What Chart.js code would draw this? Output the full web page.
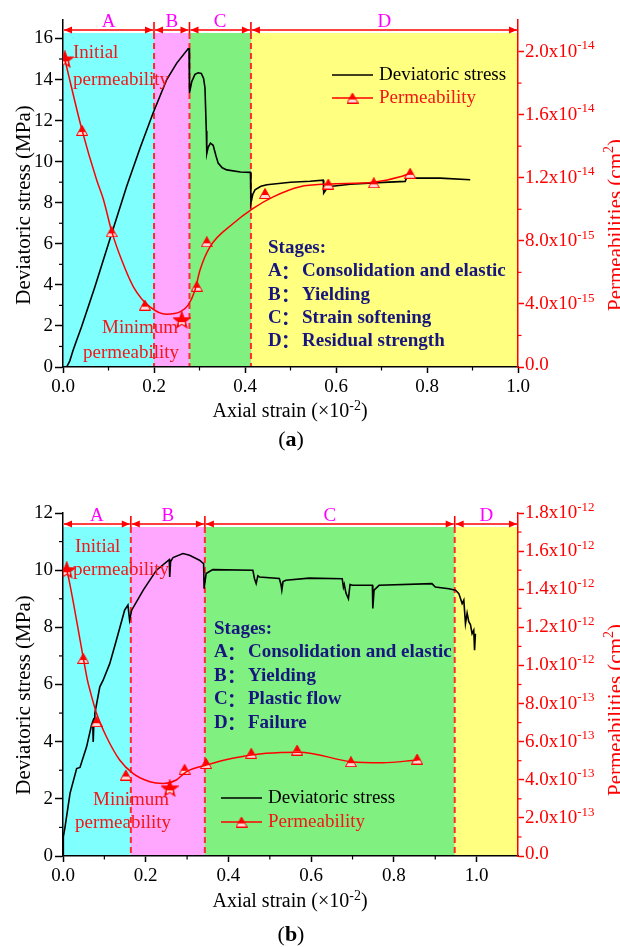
<!DOCTYPE html>
<html>
<head>
<meta charset="utf-8">
<script src="https://cdn.jsdelivr.net/npm/chart.js@4.4.1/dist/chart.umd.min.js"></script>
<style>
  body { margin: 0; background: #fff; width: 620px; height: 947px; overflow: hidden; position: relative; }
  canvas { position: absolute; left: 0; }
  #chartA { top: 0; }
  #chartB { top: 460px; }
</style>
</head>
<body>
<canvas id="chartA" width="620" height="460"></canvas>
<canvas id="chartB" width="620" height="487"></canvas>
<script>
var SERIF = "'Liberation Serif', 'Times New Roman', serif";

/* --------------------------
   DATA (a)
--------------------------- */
var strainA = [0.008, 0.015, 0.022, 0.03, 0.041, 0.07, 0.107, 0.14, 0.17, 0.198, 0.228, 0.25, 0.275,
    0.277, 0.278, 0.283, 0.29, 0.297, 0.304, 0.309, 0.312, 0.315, 0.316, 0.319, 0.324, 0.33, 0.336, 0.341,
    0.35, 0.36, 0.39, 0.412, 0.413, 0.417, 0.422, 0.435, 0.448, 0.5, 0.543, 0.572, 0.573, 0.58, 0.587,
    0.631, 0.704, 0.752, 0.755, 0.829, 0.895];
var stressA = [0, 0.3, 0.8, 1.3, 1.97, 3.9, 6.5, 8.8, 10.7, 12.37, 14.0, 14.8, 15.5,
    15.5, 13.35, 13.9, 14.25, 14.33, 14.3, 14.05, 13.6, 11.5, 10.4, 10.7, 10.9, 10.8, 10.3, 9.93,
    9.7, 9.6, 9.5, 9.48, 7.98, 8.4, 8.63, 8.8, 8.88, 9.0, 9.05, 9.1, 8.47, 8.7, 8.79,
    8.9, 8.99, 9.04, 9.2, 9.2, 9.12];
// permeability markers, x10^-15 cm2
var permStrainA = [0.004, 0.042, 0.107, 0.180, 0.261, 0.294, 0.316, 0.444, 0.583, 0.683, 0.763];
var permA = [19.5, 15.0, 8.57, 3.92, 2.97, 5.12, 7.94, 11.0, 11.6, 11.68, 12.28];
// fitted permeability curve, x10^-15 cm2
var fitStrainA = [0.004, 0.042, 0.074, 0.089, 0.107, 0.13, 0.155, 0.191, 0.228, 0.257, 0.275, 0.29,
    0.301, 0.323, 0.374, 0.418, 0.462, 0.521, 0.583, 0.683, 0.741, 0.763];
var fitPermA = [19.5, 15.0, 11.85, 10.6, 8.6, 6.7, 5.07, 3.81, 3.35, 3.49, 3.92, 4.87,
    6.14, 7.62, 9.1, 10.06, 10.79, 11.43, 11.6, 11.72, 12.06, 12.28];
var stageEdgesA = [0, 0.2, 0.278, 0.413, 1.0];
var stageTextA = ["Consolidation and elastic", "Yielding", "Strain softening", "Residual strength"];
var xTicksMaxA = 1.0, yMaxA = 16.9, y2MaxA = 22, y2StepA = 4, y2PowA = -15;

/* --------------------------
   DATA (b)
--------------------------- */
var strainB = [0, 0.0008, 0.005, 0.017, 0.033, 0.041, 0.057, 0.069, 0.072, 0.073, 0.075, 0.077, 0.089,
    0.097, 0.113, 0.129, 0.149, 0.157, 0.161, 0.166, 0.194, 0.226, 0.257, 0.258, 0.26, 0.266, 0.29,
    0.306, 0.33, 0.34, 0.341, 0.346, 0.362, 0.459, 0.463, 0.467, 0.471, 0.475, 0.523, 0.527, 0.529,
    0.532, 0.539, 0.595, 0.675, 0.678, 0.68, 0.684, 0.69, 0.694, 0.7, 0.748, 0.749, 0.752, 0.764,
    0.892, 0.9, 0.933, 0.949, 0.957, 0.965, 0.969, 0.973, 0.977, 0.981, 0.985, 0.989, 0.993, 0.995, 0.997];
var stressB = [0, 0.67, 1.02, 2.19, 3.06, 3.1, 3.82, 4.58, 4.7, 3.99, 4.8, 4.99, 5.92,
    6.15, 6.73, 7.55, 8.6, 8.78, 8.25, 8.6, 9.3, 10.0, 10.37, 9.76, 10.3, 10.44, 10.58,
    10.52, 10.35, 10.23, 9.35, 9.88, 10.02, 10.0, 9.7, 9.53, 9.8, 9.76, 9.71, 9.5, 9.3,
    9.6, 9.65, 9.72, 9.7, 9.4, 9.5, 9.2, 9.0, 9.5, 9.47, 9.47, 8.66, 9.3, 9.47,
    9.53, 9.41, 9.35, 9.3, 9.18, 8.83, 8.95, 8.13, 8.5, 8.2, 8.1, 7.78, 7.9, 7.2, 7.78];
// permeability markers, x10^-13 cm2
var permStrainB = [0.009, 0.049, 0.081, 0.152, 0.258, 0.294, 0.346, 0.455, 0.566, 0.696, 0.856];
var permB = [15.0, 10.37, 7.05, 4.25, 3.55, 4.55, 4.86, 5.39, 5.56, 4.95, 5.09];
var fitStrainB = [0.009, 0.013, 0.049, 0.059, 0.065, 0.081, 0.105, 0.137, 0.169, 0.21, 0.242, 0.274,
    0.298, 0.346, 0.41, 0.491, 0.571, 0.696, 0.772, 0.856];
var fitPermB = [15.0, 14.65, 10.4, 9.23, 8.71, 7.49, 6.26, 5.04, 4.34, 3.9, 3.81, 3.99,
    4.42, 4.77, 5.13, 5.39, 5.45, 4.95, 4.89, 5.04];
var stageEdgesB = [0, 0.164, 0.343, 0.947, 1.1];
var stageTextB = ["Consolidation and elastic", "Yielding", "Plastic flow", "Failure"];
var xTicksMaxB = 1.1, yMaxB = 12, y2MaxB = 18, y2StepB = 2, y2PowB = -13;

var stageNames = ["A", "B", "C", "D"];
var bandColors = ["#80ffff", "#ffa6ff", "#80f080", "#ffff80"];
var RED = "#ff0000", TXTRED = "#f21818", NAVY = "#16167e", MAGENTA = "#ff00ff";

/* --------------------------
   MARKERS
--------------------------- */
function triMarker(){
    var c = document.createElement("canvas"); c.width = 12; c.height = 11;
    var g = c.getContext("2d");
    g.beginPath(); g.moveTo(6, 0.5); g.lineTo(11.5, 10.5); g.lineTo(0.5, 10.5); g.closePath();
    g.fillStyle = RED; g.fill();
    g.save(); g.clip(); g.fillStyle = "#ffd8d8"; g.fillRect(0, 7, 12, 4); g.restore();
    g.strokeStyle = RED; g.lineWidth = 1; g.stroke();
    return c;
}
function starMarker(){
    var c = document.createElement("canvas"); c.width = 18; c.height = 18;
    var g = c.getContext("2d");
    g.beginPath();
    for (var i = 0; i < 10; i++) {
        var r = i % 2 ? 3.6 : 8.5, a = -Math.PI / 2 + i * Math.PI / 5;
        g.lineTo(9 + r * Math.cos(a), 9.5 + r * Math.sin(a));
    }
    g.closePath(); g.fillStyle = RED; g.fill();
    g.save(); g.clip(); g.fillStyle = "#ffe0e0"; g.fillRect(6, 11, 6, 8); g.restore();
    g.strokeStyle = RED; g.lineWidth = 1.2; g.stroke();
    return c;
}
var TRI = triMarker(), STAR = starMarker();

function pts(xs, ys){ return xs.map(function(x, i){ return {x: x, y: ys[i]}; }); }

/* --------------------------
   TEXT HELPERS
--------------------------- */
function drawMixed(ctx, parts, x, y, size, align, color, bold){
    var f = (bold ? "bold " : "") + size + "px " + SERIF;
    var fs = Math.round(size * 0.68) + "px " + SERIF;
    var w = 0, ws = [];
    parts.forEach(function(p){ ctx.font = p[1] ? fs : f; var m = ctx.measureText(p[0]).width; ws.push(m); w += m; });
    var cx = align === "center" ? x - w / 2 : x;
    ctx.fillStyle = color; ctx.textAlign = "left"; ctx.textBaseline = "middle";
    parts.forEach(function(p, i){
        ctx.font = p[1] ? fs : f;
        ctx.fillText(p[0], cx, p[1] ? y - size * 0.3 : y);
        cx += ws[i];
    });
}

/* --------------------------
   DECOR PLUGIN
--------------------------- */
var decor = {
    id: "decor",
    beforeDraw: function(chart, args, o){
        var ctx = chart.ctx, a = chart.chartArea, x = chart.scales.x;
        var top = a.top + o.bandOffset;
        ctx.save();
        for (var i = 0; i < o.edges.length - 1; i++) {
            var x0 = x.getPixelForValue(o.edges[i]), x1 = x.getPixelForValue(o.edges[i + 1]);
            ctx.fillStyle = bandColors[i];
            ctx.fillRect(x0, top, x1 - x0, a.bottom - top);
        }
        ctx.strokeStyle = "#ff2a2a"; ctx.lineWidth = 2; ctx.setLineDash([6, 4]);
        for (i = 1; i < o.edges.length - 1; i++) {
            var px = x.getPixelForValue(o.edges[i]);
            ctx.beginPath(); ctx.moveTo(px, top); ctx.lineTo(px, a.bottom); ctx.stroke();
        }
        ctx.restore();
    },
    afterDraw: function(chart, args, o){
        var ctx = chart.ctx, a = chart.chartArea, x = chart.scales.x, y = chart.scales.y, y2 = chart.scales.y2;
        var off = o.offset, top = a.top + o.bandOffset;
        ctx.save();

        // minor ticks
        function mids(scale, max){
            var t = scale.ticks.map(function(k){ return k.value; }), m = [];
            for (var i = 0; i < t.length; i++) {
                var step = t.length > 1 ? t[1] - t[0] : 0;
                var v = t[i] + step / 2;
                if (v < max - 1e-9) m.push(v);
            }
            return m;
        }
        ctx.lineWidth = 1.2;
        ctx.strokeStyle = "#000";
        mids(x, x.max).forEach(function(v){
            var p = x.getPixelForValue(v);
            ctx.beginPath(); ctx.moveTo(p, a.bottom); ctx.lineTo(p, a.bottom + 3.5); ctx.stroke();
        });
        mids(y, y.max).forEach(function(v){
            var p = y.getPixelForValue(v);
            ctx.beginPath(); ctx.moveTo(a.left - 4, p); ctx.lineTo(a.left, p); ctx.stroke();
        });
        ctx.strokeStyle = RED;
        mids(y2, y2.max).forEach(function(v){
            var p = y2.getPixelForValue(v);
            ctx.beginPath(); ctx.moveTo(a.right, p); ctx.lineTo(a.right + 3.5, p); ctx.stroke();
        });

        // right tick labels with exponents
        y2.ticks.forEach(function(k){
            var v = k.value, p = y2.getPixelForValue(v);
            if (v === 0) { drawMixed(ctx, [["0.0", 0]], a.right + 7, p - 2, 19, "left", RED); return; }
            var e = Math.floor(Math.log10(v) + 1e-9);
            var mant = v / Math.pow(10, e);
            drawMixed(ctx, [[mant.toFixed(1) + "x10", 0], [String(o.pow + e), 1]], a.right + 7, p, 19, "left", RED);
        });

        // axis titles
        ctx.save();
        ctx.translate(o.yTitle[0], o.yTitle[1] - off); ctx.rotate(-Math.PI / 2);
        drawMixed(ctx, [["Deviatoric stress (MPa)", 0]], 0, 0, 21, "center", "#000");
        ctx.restore();
        ctx.save();
        ctx.translate(o.y2Title[0], o.y2Title[1] - off); ctx.rotate(-Math.PI / 2);
        drawMixed(ctx, [["Permeabilities (cm", 0], ["2", 1], [")", 0]], 0, 0, 21, "center", RED);
        ctx.restore();
        drawMixed(ctx, [["Axial strain (\u00d710", 0], ["-2", 1], [")", 0]], o.xTitle[0], o.xTitle[1] - off, 20, "center", "#000");

        // stage arrows
        var ay = top - 3;
        ctx.lineWidth = 1.6;
        for (var i = 0; i < o.edges.length - 1; i++) {
            var x0 = x.getPixelForValue(o.edges[i]) + 1, x1 = x.getPixelForValue(o.edges[i + 1]) - 1;
            ctx.strokeStyle = RED; ctx.fillStyle = RED;
            ctx.beginPath(); ctx.moveTo(x0, ay); ctx.lineTo(x1, ay); ctx.stroke();
            ctx.beginPath(); ctx.moveTo(x0, ay); ctx.lineTo(x0 + 8, ay - 3.5); ctx.lineTo(x0 + 8, ay + 3.5); ctx.closePath(); ctx.fill();
            ctx.beginPath(); ctx.moveTo(x1, ay); ctx.lineTo(x1 - 8, ay - 3.5); ctx.lineTo(x1 - 8, ay + 3.5); ctx.closePath(); ctx.fill();
            if (i > 0) {
                ctx.beginPath(); ctx.moveTo(x0 - 1, top - 11); ctx.lineTo(x0 - 1, top); ctx.stroke();
            }
            drawMixed(ctx, [[stageNames[i], 0]], (x0 + x1) / 2, top - 11, 19, "center", MAGENTA);
        }

        // annotations
        o.notes.forEach(function(n){ drawMixed(ctx, [[n[0], 0]], n[1], n[2] - off, 19, "left", TXTRED); });

        // stages box
        var sx = o.stages[0], sy = o.stages[1] - off, sd = o.stages[2];
        drawMixed(ctx, [["Stages:", 0]], sx, sy, 19, "left", NAVY, true);
        o.stageText.forEach(function(t, i){
            var yy = sy + sd * (i + 1);
            drawMixed(ctx, [[stageNames[i], 0]], sx, yy, 19, "left", NAVY, true);
            ctx.font = "bold 19px 'Noto Sans CJK SC'";
            ctx.fillText("\uff1a", sx + 13, yy);
            drawMixed(ctx, [[t, 0]], sx + 34, yy, 19, "left", NAVY, true);
        });

        // legend
        var lx = o.legend[0], ly1 = o.legend[1] - off, ly2 = o.legend[2] - off;
        ctx.lineWidth = 1.6;
        ctx.strokeStyle = "#000";
        ctx.beginPath(); ctx.moveTo(lx, ly1); ctx.lineTo(lx + 41, ly1); ctx.stroke();
        ctx.strokeStyle = RED;
        ctx.beginPath(); ctx.moveTo(lx, ly2); ctx.lineTo(lx + 41, ly2); ctx.stroke();
        ctx.drawImage(TRI, lx + 20.5 - 6, ly2 - 5.5);
        drawMixed(ctx, [["Deviatoric stress", 0]], lx + 47, ly1, 19, "left", "#000");
        drawMixed(ctx, [["Permeability", 0]], lx + 47, ly2, 19, "left", TXTRED);

        // caption
        var cy = o.caption[1] - off;
        ctx.font = "22px " + SERIF; var w1 = ctx.measureText("(").width;
        ctx.font = "bold 22px " + SERIF; var w2 = ctx.measureText(o.caption[2]).width;
        var cx = o.caption[0] - (2 * w1 + w2) / 2;
        drawMixed(ctx, [["(", 0]], cx, cy, 22, "left", "#000");
        drawMixed(ctx, [[o.caption[2], 0]], cx + w1, cy, 22, "left", "#000", true);
        drawMixed(ctx, [[")", 0]], cx + w1 + w2, cy, 22, "left", "#000");

        ctx.restore();
    }
};

/* --------------------------
   BUILD CHART
--------------------------- */
function makeChart(id, d, L){
    var minVal = Math.min.apply(null, d.perm);
    var styles = d.perm.map(function(v, i){ return (i === 0 || v === minVal) ? STAR : TRI; });

    return new Chart(document.getElementById(id), {
        type: "line",
        data: {
            datasets: [
                { data: pts(d.fitX, d.fit), yAxisID: "y2", borderColor: RED, borderWidth: 1.5,
                  pointRadius: 0, cubicInterpolationMode: "monotone", fill: false },
                { data: pts(d.permX, d.perm), yAxisID: "y2", showLine: false, pointStyle: styles,
                  pointRadius: 6, borderColor: RED, backgroundColor: RED },
                { data: pts(d.strain, d.stress), yAxisID: "y", borderColor: "#000", borderWidth: 1.6,
                  pointRadius: 0, tension: 0, fill: false }
            ]
        },
        options: {
            responsive: false,
            animation: false,
            events: [],
            layout: { padding: { top: L.padTop, left: 0, right: 0, bottom: 0 } },
            plugins: {
                legend: { display: false },
                tooltip: { enabled: false },
                decor: L
            },
            scales: {
                x: {
                    type: "linear", position: "bottom", min: 0, max: d.xMax,
                    ticks: { stepSize: 0.2, includeBounds: false, padding: 3, color: "#000", maxRotation: 0,
                             font: { family: SERIF, size: 19 },
                             callback: function(v){ return v.toFixed(1); } },
                    grid: { drawOnChartArea: false, drawTicks: true, tickLength: 6, tickColor: "#000", tickWidth: 1.5 },
                    border: { color: "#000", width: 1.5 },
                    afterFit: function(s){ s.height = L.xHeight; }
                },
                y: {
                    position: "left", min: 0, max: d.yMax,
                    ticks: { stepSize: 2, includeBounds: false, padding: 2, color: "#000",
                             font: { family: SERIF, size: 19 } },
                    grid: { drawOnChartArea: false, drawTicks: true, tickLength: 8, tickColor: "#000", tickWidth: 1.5 },
                    border: { color: "#000", width: 1.5 },
                    afterFit: function(s){ s.width = 63; }
                },
                y2: {
                    position: "right", min: 0, max: d.y2Max,
                    ticks: { stepSize: d.y2Step, includeBounds: false, display: false },
                    grid: { drawOnChartArea: false, drawTicks: true, tickLength: 6, tickColor: RED, tickWidth: 1.5 },
                    border: { color: RED, width: 1.5 },
                    afterFit: function(s){ s.width = 102; }
                }
            }
        },
        plugins: [decor]
    });
}

makeChart("chartA", {
    strain: strainA, stress: stressA, permX: permStrainA, perm: permA, fitX: fitStrainA, fit: fitPermA,
    xMax: xTicksMaxA, yMax: yMaxA, y2Max: y2MaxA, y2Step: y2StepA
}, {
    offset: 0, padTop: 20, xHeight: 93, bandOffset: 13, pow: y2PowA,
    edges: stageEdgesA, stageText: stageTextA,
    yTitle: [24, 205], y2Title: [616, 225], xTitle: [290, 412],
    legend: [332, 75, 98], stages: [268, 248, 23.3],
    notes: [["Initial", 73, 53], ["permeability", 73, 80], ["Minimum", 102, 328], ["permeability", 83, 353]],
    caption: [291, 440, "a"]
});

makeChart("chartB", {
    strain: strainB, stress: stressB, permX: permStrainB, perm: permB, fitX: fitStrainB, fit: fitPermB,
    xMax: xTicksMaxB, yMax: yMaxB, y2Max: y2MaxB, y2Step: y2StepB
}, {
    offset: 460, padTop: 53, xHeight: 91, bandOffset: 14, pow: y2PowB,
    edges: stageEdgesB, stageText: stageTextB,
    yTitle: [24, 695], y2Title: [616, 710], xTitle: [290, 902],
    legend: [221, 798, 822], stages: [214, 629, 23.5],
    notes: [["Initial", 75, 547], ["permeability", 73, 570], ["Minimum", 93, 800], ["permeability", 75, 823]],
    caption: [291, 935, "b"]
});
</script>
</body>
</html>
